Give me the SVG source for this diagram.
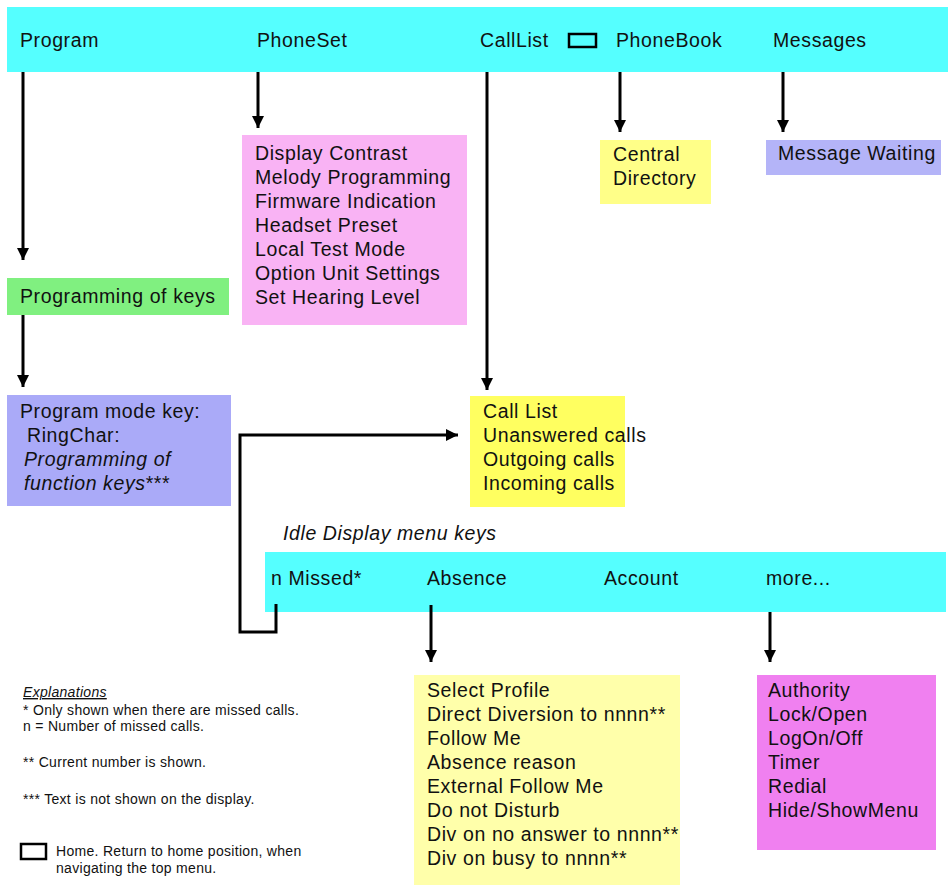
<svg xmlns="http://www.w3.org/2000/svg" width="948" height="887" viewBox="0 0 948 887">
<style>
text{font-family:"Liberation Sans",Arial,sans-serif;font-size:19.5px;letter-spacing:0.6px;fill:#111}
.s{font-size:14px;letter-spacing:0.3px}
.i{font-style:italic}
.c{stroke:#000;stroke-width:3;fill:none}
</style>
<defs><marker id="a" viewBox="0 0 10 10" refX="10" refY="5" markerWidth="5" markerHeight="4" orient="auto" markerUnits="strokeWidth"><path d="M0,0L10,5L0,10z" fill="#000"/></marker></defs>
<rect width="948" height="887" fill="#fff"/>
<g id="topbar"><rect x="7" y="7" width="941" height="65" fill="#55ffff"/>
<text x="20" y="47">Program</text><text x="257" y="47">PhoneSet</text><text x="480" y="47">CallList</text>
<rect x="569" y="34" width="27" height="13" fill="none" stroke="#000" stroke-width="2.5"/>
<text x="616" y="47">PhoneBook</text><text x="773" y="47">Messages</text></g>
<g id="phoneset"><rect x="242" y="135" width="225" height="190" fill="#f9b3f4"/>
<text x="255" y="160">Display Contrast</text><text x="255" y="184">Melody Programming</text><text x="255" y="208">Firmware Indication</text><text x="255" y="232">Headset Preset</text><text x="255" y="256">Local Test Mode</text><text x="255" y="280">Option Unit Settings</text><text x="255" y="304">Set Hearing Level</text></g>
<g id="phonebook"><rect x="600" y="140" width="111" height="64" fill="#ffff88"/><text x="613" y="161">Central</text><text x="613" y="185">Directory</text></g>
<g id="messages"><rect x="766" y="140" width="175" height="35" fill="#b4b4f8"/><text x="778" y="160">Message Waiting</text></g>
<g id="progkeys"><rect x="7" y="278" width="222" height="37" fill="#80f080"/><text x="20" y="303">Programming of keys</text></g>
<g id="progmode"><rect x="7" y="395" width="224" height="111" fill="#aaaaf8"/>
<text x="20" y="418">Program mode key:</text><text x="27" y="442">RingChar:</text><text x="24" y="466" class="i">Programming of</text><text x="24" y="490"><tspan class="i">function keys</tspan>***</text></g>
<g id="calllist"><rect x="470" y="396" width="155" height="111" fill="#ffff60"/>
<text x="483" y="418">Call List</text><text x="483" y="442">Unanswered calls</text><text x="483" y="466">Outgoing calls</text><text x="483" y="490">Incoming calls</text></g>
<g id="idle"><text x="283" y="540" class="i">Idle Display menu keys</text><rect x="265" y="552" width="681" height="60" fill="#55ffff"/>
<text x="271" y="585">n Missed*</text><text x="427" y="585">Absence</text><text x="604" y="585">Account</text><text x="766" y="585">more...</text></g>
<g id="absence"><rect x="414" y="675" width="266" height="210" fill="#ffffaa"/>
<text x="427" y="697">Select Profile</text><text x="427" y="721">Direct Diversion to nnnn**</text><text x="427" y="745">Follow Me</text><text x="427" y="769">Absence reason</text><text x="427" y="793">External Follow Me</text><text x="427" y="817">Do not Disturb</text><text x="427" y="841">Div on no answer to nnnn**</text><text x="427" y="865">Div on busy to nnnn**</text></g>
<g id="more"><rect x="757" y="675" width="179" height="175" fill="#f080f0"/>
<text x="768" y="697">Authority</text><text x="768" y="721">Lock/Open</text><text x="768" y="745">LogOn/Off</text><text x="768" y="769">Timer</text><text x="768" y="793">Redial</text><text x="768" y="817">Hide/ShowMenu</text></g>
<g id="explanations">
<text x="23" y="697" class="s i" text-decoration="underline">Explanations</text>
<text x="23" y="715" class="s">* Only shown when there are missed calls.</text>
<text x="23" y="731" class="s">n = Number of missed calls.</text>
<text x="23" y="767" class="s">** Current number is shown.</text>
<text x="23" y="804" class="s">*** Text is not shown on the display.</text>
<rect x="21" y="844" width="25" height="15" fill="none" stroke="#000" stroke-width="2.5"/>
<text x="56" y="856" class="s">Home. Return to home position, when</text>
<text x="56" y="873" class="s">navigating the top menu.</text></g>
<g id="connectors">
<path class="c" d="M23,72V260" marker-end="url(#a)"/>
<path class="c" d="M258,72V128" marker-end="url(#a)"/>
<path class="c" d="M487,72V390" marker-end="url(#a)"/>
<path class="c" d="M620,72V132" marker-end="url(#a)"/>
<path class="c" d="M783,72V132" marker-end="url(#a)"/>
<path class="c" d="M23,315V387" marker-end="url(#a)"/>
<path class="c" d="M276,604V632H240V435H458" marker-end="url(#a)"/>
<path class="c" d="M431,605V662" marker-end="url(#a)"/>
<path class="c" d="M770,612V662" marker-end="url(#a)"/>
</g>
</svg>
